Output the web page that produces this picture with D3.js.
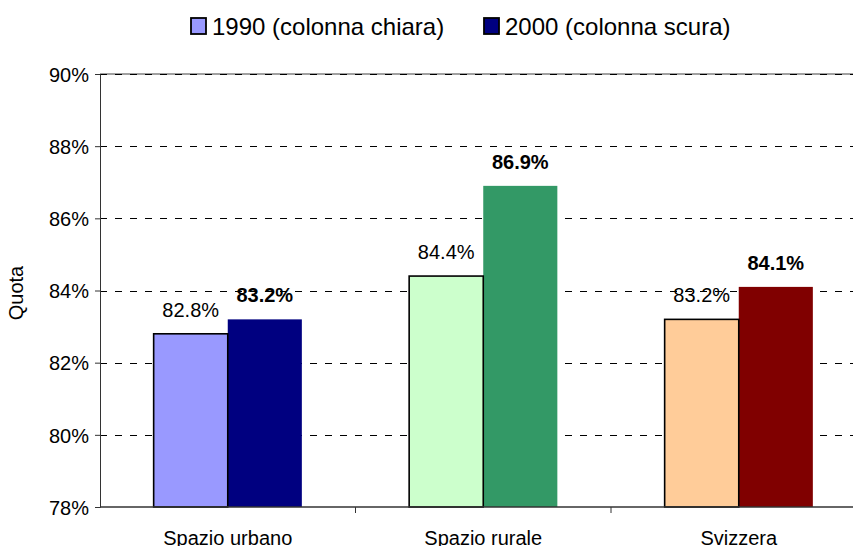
<!DOCTYPE html>
<html lang="it">
  <head>
    <meta charset="utf-8">
    <style>
      body { margin: 0; background: #fff; }
      svg { display: block; font-family: "Liberation Sans", Arial, sans-serif; }
      .axis text { font-size: 20px; fill: #000; }
      .val { font-size: 20px; }
      .val.bold { font-weight: bold; }
      .legend text { font-size: 24px; }
    </style>
  </head>
  <body>
    <svg width="853" height="546">
      <g class="grid"></g>
      <g class="bars"></g>
      <g class="y axis"></g>
      <g class="x axis"></g>
      <g class="legend"></g>
      <text class="ytitle"></text>
    </svg>

    <script src="https://cdn.jsdelivr.net/npm/d3@7"></script>
    <script>
      // data
      var categories = ["Spazio urbano", "Spazio rurale", "Svizzera"];
      var years = ["1990", "2000"];
      var values1990 = [82.8, 84.4, 83.2];
      var values2000 = [83.2, 86.9, 84.1];
      var yTicks = [78, 80, 82, 84, 86, 88, 90];
      var legendLabels = ["1990 (colonna chiara)", "2000 (colonna scura)"];

      var lightColors = ["#9999ff", "#ccffcc", "#ffcc99"];
      var darkColors = ["#000080", "#339966", "#800000"];

      var plotLeft = 100, plotRight = 866.5, plotTop = 74, plotBottom = 507;

      var x0 = d3.scaleBand().domain(categories).range([plotLeft, plotRight]).padding(0);
      var bw = x0.bandwidth();
      var x1 = d3.scaleBand().domain(years).range([bw * 0.21, bw * 0.79]).padding(0);
      var y = d3.scaleLinear().domain([78, 90]).range([plotBottom, plotTop]);

      var svg = d3.select("svg");

      // gridlines
      svg.select(".grid").append("line")
        .attr("x1", plotLeft).attr("x2", plotRight)
        .attr("y1", y(90)).attr("y2", y(90))
        .attr("stroke", "#808080").attr("stroke-width", 1.5);

      svg.select(".grid").selectAll("line.g")
        .data(yTicks.filter(function(d) { return d > 78; }))
        .enter().append("line")
        .attr("class", "g")
        .attr("x1", plotLeft).attr("x2", plotRight)
        .attr("y1", function(d) { return Math.round(y(d)) + 0.5; })
        .attr("y2", function(d) { return Math.round(y(d)) + 0.5; })
        .attr("stroke", "#000")
        .attr("stroke-dasharray", "7,8");

      // bars
      var rows = categories.map(function(c, i) {
        return { cat: c, i: i, vals: [values1990[i], values2000[i]] };
      });

      var groups = svg.select(".bars").selectAll("g.bar-group")
        .data(rows)
        .enter().append("g")
        .attr("class", "bar-group")
        .attr("transform", function(d) { return "translate(" + x0(d.cat) + ",0)"; });

      groups.each(function(d) {
        var g = d3.select(this);
        // dark bar first, light bar on top so its border shows
        g.append("rect")
          .attr("x", x1("2000"))
          .attr("y", y(d.vals[1]))
          .attr("width", x1.bandwidth())
          .attr("height", plotBottom - y(d.vals[1]))
          .attr("fill", darkColors[d.i]);
        g.append("rect")
          .attr("x", x1("1990"))
          .attr("y", y(d.vals[0]))
          .attr("width", x1.bandwidth())
          .attr("height", plotBottom - y(d.vals[0]))
          .attr("fill", lightColors[d.i])
          .attr("stroke", "#000")
          .attr("stroke-width", 1.6);

        g.append("text")
          .attr("class", "val")
          .attr("x", x1("1990") + x1.bandwidth() / 2)
          .attr("y", y(d.vals[0]) - 17)
          .attr("text-anchor", "middle")
          .text(d.vals[0].toFixed(1) + "%");
        g.append("text")
          .attr("class", "val bold")
          .attr("x", x1("2000") + x1.bandwidth() / 2)
          .attr("y", y(d.vals[1]) - 17)
          .attr("text-anchor", "middle")
          .text(d.vals[1].toFixed(1) + "%");
      });

      // axes
      var yAxis = d3.axisLeft(y).tickValues(yTicks).tickSize(5).tickPadding(6)
        .tickFormat(function(d) { return d + "%"; });
      svg.select(".y.axis")
        .attr("transform", "translate(" + plotLeft + ",0)")
        .call(yAxis);
      svg.select(".y.axis").selectAll("text").attr("dy", "0.36em");

      var xAxis = d3.axisBottom(x0).tickSize(0).tickPadding(24);
      svg.select(".x.axis")
        .attr("transform", "translate(0," + plotBottom + ")")
        .call(xAxis);
      svg.select(".x.axis").select(".domain").remove();
      svg.select(".x.axis").append("line")
        .attr("x1", plotLeft).attr("x2", plotRight)
        .attr("stroke", "#333").attr("stroke-width", 1.3);
      svg.select(".x.axis").selectAll("line.bt")
        .data(categories.slice(1))
        .enter().append("line")
        .attr("class", "bt")
        .attr("x1", function(d) { return x0(d); })
        .attr("x2", function(d) { return x0(d); })
        .attr("y1", 0).attr("y2", 6)
        .attr("stroke", "#333");
      svg.selectAll(".axis .domain, .axis .tick line").attr("stroke", "#333");

      // y title
      svg.select(".ytitle")
        .attr("transform", "translate(23,293) rotate(-90)")
        .attr("text-anchor", "middle")
        .style("font-size", "20px")
        .text("Quota");

      // legend
      var legendX = [191, 484];
      var lg = svg.select(".legend").selectAll("g")
        .data(legendLabels)
        .enter().append("g")
        .attr("transform", function(d, i) { return "translate(" + legendX[i] + ",18)"; });
      lg.append("rect")
        .attr("width", 15).attr("height", 16)
        .attr("fill", function(d, i) { return i === 0 ? lightColors[0] : darkColors[0]; })
        .attr("stroke", "#000").attr("stroke-width", 1.8);
      lg.append("text")
        .attr("x", 21).attr("y", 17)
        .text(function(d) { return d; });
    </script>
  </body>
</html>
